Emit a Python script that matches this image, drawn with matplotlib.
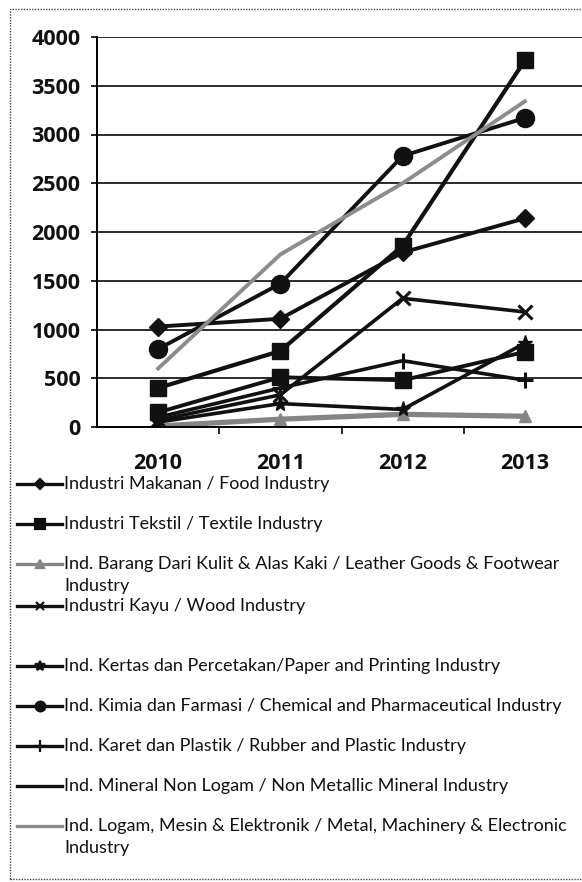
import matplotlib.pyplot as plt
from matplotlib.lines import Line2D
from matplotlib.patches import Rectangle

# data
years = ["2010", "2011", "2012", "2013"]
food = [1030, 1110, 1790, 2140]
textile = [400, 780, 1860, 3760]
leather = [10, 80, 130, 110]
wood = [70, 330, 1320, 1180]
paper = [50, 240, 180, 860]
chemical = [800, 1470, 2780, 3170]
rubber = [100, 400, 680, 480]
mineral = [150, 510, 480, 770]
metal = [600, 1770, 2500, 3340]

labels = [
    "Industri Makanan / Food Industry",
    "Industri Tekstil / Textile Industry",
    "Ind. Barang Dari Kulit & Alas Kaki / Leather Goods & Footwear\nIndustry",
    "Industri Kayu / Wood Industry",
    "Ind. Kertas dan Percetakan/Paper and Printing Industry",
    "Ind. Kimia dan Farmasi / Chemical and Pharmaceutical Industry",
    "Ind. Karet dan Plastik / Rubber and Plastic Industry",
    "Ind. Mineral Non Logam / Non Metallic Mineral Industry",
    "Ind. Logam, Mesin & Elektronik / Metal, Machinery & Electronic\nIndustry",
]
series = [food, textile, leather, wood, paper, chemical, rubber, mineral, metal]

# (color, linewidth, marker, markersize, legend marker size)
styles = [
    ("#111111", 2.8, "D", 9, 5),
    ("#111111", 3.0, "s", 12, 7),
    ("#858585", 3.8, "^", 9, 6),
    ("#111111", 2.6, "x", 10, 6),
    ("#111111", 2.6, "*", 11, 7),
    ("#111111", 2.8, "o", 13, 7),
    ("#111111", 2.6, "+", 12, 8),
    ("#111111", 2.8, "s", 11, None),
    ("#8c8c8c", 2.8, None, 0, None),
]

W, H = 582, 882
fig = plt.figure(figsize=(W / 100, H / 100), dpi=100)
ax = fig.add_axes([97 / W, 1 - 427 / H, (586 - 97) / W, 390 / H])

x = list(range(len(years)))
for vals, (c, lw, m, ms, _) in zip(series, styles):
    ax.plot(x, vals, color=c, lw=lw, marker=m, ms=ms,
            markeredgewidth=2.2 if m in ("x", "+") else 1, solid_joinstyle="round")

ax.set_xlim(-0.5, 3.5)
ax.set_ylim(0, 4000)
ax.set_yticks(range(0, 4001, 500))
ax.set_xticks(x)
ax.set_xticklabels(years)
ax.set_xticks([0.5, 1.5, 2.5, 3.5], minor=True)
ax.yaxis.grid(True, color="#1a1a1a", lw=1.3)
ax.set_axisbelow(True)
for s in ("top", "right"):
    ax.spines[s].set_visible(False)
ax.spines["left"].set_linewidth(1.4)
ax.spines["bottom"].set_linewidth(1.4)
ax.tick_params(axis="y", length=4, width=1.2, pad=8)
ax.tick_params(axis="x", which="major", length=0, pad=19)
ax.tick_params(axis="x", which="minor", length=5, width=1.2)
for t in ax.get_xticklabels() + ax.get_yticklabels():
    t.set_fontfamily("Open Sans")
    t.set_fontweight("bold")
    t.set_fontsize(15.5)
    t.set_color("#111111")

# manual legend, stacked under the plot like the Excel one
leg_y = [484, 524, 564, 606, 666, 706, 746, 786, 826]
for lab, yp, (c, lw, m, ms, lms) in zip(labels, leg_y, styles):
    yf = 1 - yp / H
    fig.add_artist(Line2D([17 / W, 39.5 / W, 62 / W], [yf, yf, yf], color=c, lw=2.4,
                          marker=m if lms else None, ms=lms or 0, markevery=[1],
                          markeredgewidth=1.6, transform=fig.transFigure))
    for i, line in enumerate(lab.split("\n")):
        fig.text(64 / W, 1 - (yp + i * 22) / H, line, fontsize=13,
                 family="Lato", va="center", ha="left", color="#111111")

# dotted chart-area border
fig.add_artist(Rectangle((10 / W, 1 - 879 / H), 1.2, (879 - 9) / H,
                         fill=False, ls=(0, (1, 1)), lw=1.0, ec="#444444",
                         transform=fig.transFigure))

fig.savefig("out.png", dpi=100)
